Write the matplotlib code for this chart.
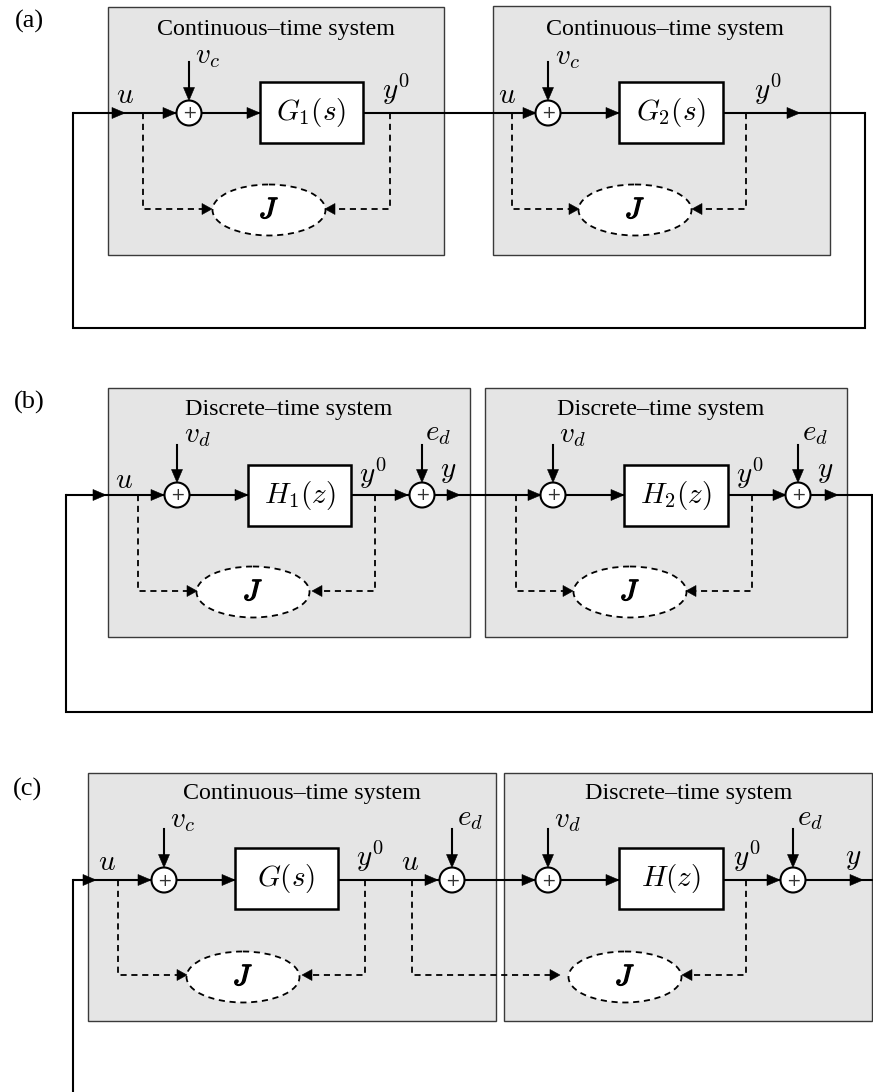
import matplotlib
matplotlib.use('Agg')
import matplotlib.pyplot as plt
from matplotlib.patches import Rectangle, Ellipse, Polygon
import matplotlib.patheffects as pe

plt.rcParams['mathtext.fontset'] = 'cm'

# ---------------- diagram content (pixel layout) ----------------
panel_tags = ['(a)', '(b)', '(c)']
panel_tag_pos = [(29, 21), (29, 402), (28, 789)]

main_y = [113, 495, 880]

grey_boxes = [
    [(108, 7, 444, 255), (493, 6, 830, 255)],
    [(108, 388, 470, 637), (485, 388, 847, 637)],
    [(88, 773, 496, 1021), (504, 773, 872, 1021)],
]
titles = [
    [(276, 29, 'Continuous–time system'), (665, 29, 'Continuous–time system')],
    [(289, 409, 'Discrete–time system'), (661, 409, 'Discrete–time system')],
    [(302, 793, 'Continuous–time system'), (689, 793, 'Discrete–time system')],
]
sum_x = [[189, 548], [177, 422, 553, 798], [164, 452, 548, 793]]
sum_in_top = [62, 445, 829]
blocks = [
    [(260, 82, 363, 143, r'$G_1(s)$'), (619, 82, 723, 143, r'$G_2(s)$')],
    [(248, 465, 351, 526, r'$H_1(z)$'), (624, 465, 728, 526, r'$H_2(z)$')],
    [(235, 848, 338, 909, r'$G(s)$'), (619, 848, 723, 909, r'$H(z)$')],
]
ellipses = [[(269, 210), (635, 210)], [(253, 592), (630, 592)], [(243, 977), (625, 977)]]
dash_y = [209, 591, 975]
dash_branches = [
    [(143, 212), (390, 325), (512, 579), (746, 692)],
    [(138, 197), (375, 312), (516, 573), (752, 686)],
    [(118, 187), (365, 302), (412, 560), (746, 682)],
]
arrow_tips = [
    [125, 176, 260, 536, 619, 800],
    [106, 164, 248, 408, 460, 541, 624, 786, 838],
    [96, 151, 235, 438, 535, 619, 780, 863],
]
# feedback path: (left x, right x, bottom y)
feedback = [(73, 865, 328), (66, 872, 712), (73, 873, 1092)]
labels = [
    [(125, 95, r'$u$'), (207, 56, r'$v_c$'), (396, 89, r'$y^0$'),
     (507, 95, r'$u$'), (567, 57, r'$v_c$'), (768, 89, r'$y^0$')],
    [(124, 480, r'$u$'), (197, 435, r'$v_d$'), (373, 473, r'$y^0$'),
     (438, 433, r'$e_d$'), (448, 471, r'$y$'), (572, 435, r'$v_d$'),
     (750, 473, r'$y^0$'), (815, 433, r'$e_d$'), (825, 471, r'$y$')],
    [(107, 862, r'$u$'), (182, 820, r'$v_c$'), (370, 856, r'$y^0$'),
     (410, 862, r'$u$'), (470, 818, r'$e_d$'), (567, 820, r'$v_d$'),
     (747, 856, r'$y^0$'), (810, 818, r'$e_d$'), (853, 858, r'$y$')],
]

# ---------------- drawing ----------------
W, H = 873, 1092
fig = plt.figure(figsize=(W / 100, H / 100), dpi=100)
ax = fig.add_axes([0, 0, 1, 1])
ax.set_xlim(0, W)
ax.set_ylim(H, 0)
ax.axis('off')

LW = 1.5
R = 12.5
DASH = (0, (3.4, 2.6))
MATH_FS = 21


def head(xt, yt, dx, dy, L=13, w=5.5, z=6):
    bx, by = xt - dx * L, yt - dy * L
    px, py = -dy, dx
    ax.add_patch(Polygon([(xt, yt), (bx + px * w, by + py * w), (bx - px * w, by - py * w)],
                         closed=True, fc='k', ec='k', lw=0.4, zorder=z))


for p in range(3):
    y = main_y[p]
    tx, ty = panel_tag_pos[p]
    ax.text(tx, ty, panel_tags[p], fontsize=19, family='Liberation Serif',
            ha='center', va='center')
    for (x0, y0, x1, y1) in grey_boxes[p]:
        ax.add_patch(Rectangle((x0, y0), x1 - x0, y1 - y0, fc='#e5e5e5', ec='#3a3a3a',
                               lw=1.0, zorder=1))
    for (x, yy, t) in titles[p]:
        ax.text(x, yy, t, fontsize=17.3, family='Liberation Serif', ha='center', va='center',
                zorder=3)
    # feedback and main line
    lx, rx, by = feedback[p]
    ax.plot([lx, rx], [y, y], color='k', lw=LW, zorder=2, solid_capstyle='butt')
    if p < 2:
        ax.plot([rx, rx, lx, lx], [y, by, by, y], color='k', lw=LW, zorder=2,
                solid_joinstyle='miter')
    else:
        ax.plot([lx, lx], [by, y], color='k', lw=LW, zorder=2, solid_joinstyle='miter')
    for xt in arrow_tips[p]:
        head(xt, y, 1, 0)
    # summing junctions
    for sx in sum_x[p]:
        ax.add_patch(Ellipse((sx, y), 2 * R, 2 * R, fc='white', ec='k', lw=1.5, zorder=5))
        ax.text(sx, y + 0.5, '+', fontsize=12.5, color='#333333', family='DejaVu Sans',
                ha='center', va='center', zorder=6)
        ax.plot([sx, sx], [sum_in_top[p], y - R - 8], color='k', lw=LW, zorder=2)
        head(sx, y - R, 0, 1)
    # blocks
    for (x0, y0, x1, y1, t) in blocks[p]:
        ax.add_patch(Rectangle((x0, y0), x1 - x0, y1 - y0, fc='white', ec='k', lw=1.8,
                               zorder=5))
        ax.text((x0 + x1) / 2, (y0 + y1) / 2, t, fontsize=MATH_FS, ha='center',
                va='center', zorder=6)
    # cost ellipses
    for (cx, cy) in ellipses[p]:
        ax.add_patch(Ellipse((cx, cy), 113, 51, fc='white', ec='k', lw=1.3, ls=DASH,
                             zorder=5))
        ax.text(cx, cy, r'$J$', fontsize=MATH_FS, ha='center', va='center', zorder=6,
                path_effects=[pe.withStroke(linewidth=1.0, foreground='k')])
    # dashed branches
    yd = dash_y[p]
    for (xb, xt) in dash_branches[p]:
        d = 1 if xt > xb else -1
        ax.plot([xb, xb, xt - d * 6], [y, yd, yd], color='k', lw=1.3, ls=DASH, zorder=3)
        head(xt, yd, d, 0, L=10, w=5.5)
    for (x, yy, t) in labels[p]:
        ax.text(x, yy, t, fontsize=MATH_FS, ha='center', va='center', zorder=6)

fig.savefig('out.png', dpi=100)
